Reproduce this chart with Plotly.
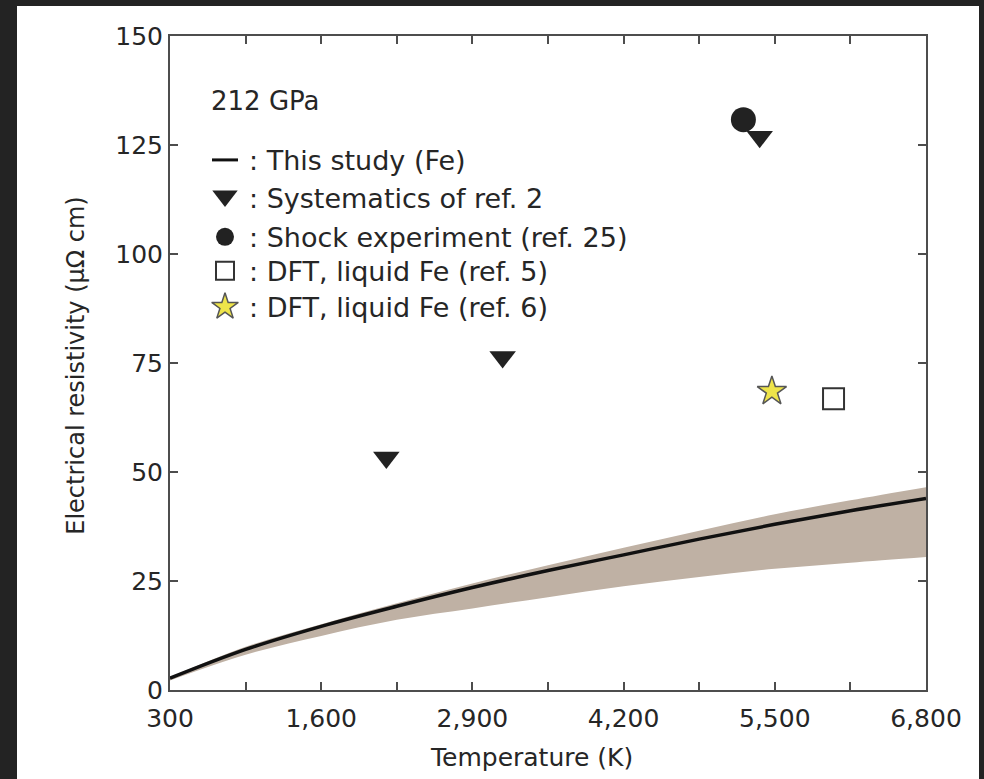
import plotly.graph_objects as go

# ---- data ----
temp_K = [300, 950, 1600, 2250, 2900, 3550, 4200, 4850, 5500, 6150, 6800]
rho_this_study = [2.7, 9.3, 14.6, 19.2, 23.5, 27.4, 31.0, 34.6, 38.0, 41.1, 43.9]
rho_upper = [2.9, 9.9, 15.1, 19.9, 24.4, 28.6, 32.6, 36.5, 40.3, 43.5, 46.5]
rho_lower = [2.2, 8.1, 12.4, 16.1, 18.7, 21.3, 23.8, 25.9, 27.8, 29.2, 30.5]

sys_T = [2160, 3160, 5370]
sys_rho = [53.3, 76.4, 126.9]
shock_T = [5230]
shock_rho = [130.8]
dft5_T = [6005]
dft5_rho = [66.8]
dft6_T = [5475]
dft6_rho = [68.5]

x_tickvals = [300, 950, 1600, 2250, 2900, 3550, 4200, 4850, 5500, 6150, 6800]
x_ticktext = ["300", "", "1,600", "", "2,900", "", "4,200", "", "5,500", "", "6,800"]
y_tickvals = [0, 25, 50, 75, 100, 125, 150]
y_ticktext = ["0", "25", "50", "75", "100", "125", "150"]

legend_labels = [": This study (Fe)", ": Systematics of ref. 2", ": Shock experiment (ref. 25)",
                 ": DFT, liquid Fe (ref. 5)", ": DFT, liquid Fe (ref. 6)"]

# ---- layout geometry (pixels) ----
W, H = 984, 779
L, R, T, B = 170, 926, 36, 690.5
pw, ph = R - L, B - T


def px(x):
    return (x - L) / pw


def py(y):
    return (B - y) / ph


FONT = "DejaVu Sans"
TXT = "#262626"
AX = "#4d4d4d"
BAND = "#bfb1a4"
DARK = "#222222"

sty_sys = dict(symbol="triangle-down", color=DARK)
sty_shock = dict(symbol="circle", color=DARK)
sty_dft5 = dict(symbol="square", color="white", line=dict(color="#333333", width=2))
sty_dft6 = dict(symbol="star", color="#eee44a", line=dict(color="#555555", width=1.5))

fig = go.Figure()

# uncertainty band
fig.add_trace(go.Scatter(x=temp_K, y=rho_lower, mode="lines", line=dict(width=0, color=BAND, shape="spline"),
                         showlegend=False, hoverinfo="skip"))
fig.add_trace(go.Scatter(x=temp_K, y=rho_upper, mode="lines", line=dict(width=0, color=BAND, shape="spline"),
                         fill="tonexty", fillcolor=BAND, showlegend=False, hoverinfo="skip"))

fig.add_trace(go.Scatter(x=temp_K, y=rho_this_study, mode="lines",
                         line=dict(color="#111111", width=3.5, shape="spline"),
                         name="This study (Fe)", showlegend=False))
fig.add_trace(go.Scatter(x=sys_T, y=sys_rho, mode="markers", marker=dict(size=23, **sty_sys),
                         name="Systematics of ref. 2", showlegend=False))
fig.add_trace(go.Scatter(x=shock_T, y=shock_rho, mode="markers", marker=dict(size=25, **sty_shock),
                         name="Shock experiment (ref. 25)", showlegend=False))
fig.add_trace(go.Scatter(x=dft5_T, y=dft5_rho, mode="markers", marker=dict(size=21, **sty_dft5),
                         name="DFT, liquid Fe (ref. 5)", showlegend=False))
fig.add_trace(go.Scatter(x=dft6_T, y=dft6_rho, mode="markers", marker=dict(size=22, **sty_dft6),
                         name="DFT, liquid Fe (ref. 6)", showlegend=False))

# ---- hand-drawn key (on a hidden overlay axis spanning the plot area 0..1) ----
key_rows_y = [160, 198, 237, 271, 307]     # pixel centres of key rows
key_sym_x = 225
fig.add_trace(go.Scatter(x=[px(212), px(238)], y=[py(key_rows_y[0])] * 2, mode="lines",
                         line=dict(color="#111111", width=3), xaxis="x2", yaxis="y2",
                         showlegend=False, hoverinfo="skip"))
for row, (sty, size, dy) in enumerate([(sty_sys, 22, -2), (sty_shock, 18, 0),
                                      (sty_dft5, 18, 0), (sty_dft6, 20, 0)], start=1):
    fig.add_trace(go.Scatter(x=[px(key_sym_x)], y=[py(key_rows_y[row] + dy)], mode="markers",
                             marker=dict(size=size, **sty), xaxis="x2", yaxis="y2",
                             showlegend=False, hoverinfo="skip"))

annotations = [
    dict(text="212 GPa", x=px(209), y=py(101.5), xref="paper", yref="paper",
         xanchor="left", yanchor="middle", showarrow=False,
         font=dict(family=FONT, size=26, color=TXT)),
    dict(text="Temperature (K)", x=px(531), y=py(758), xref="paper", yref="paper",
         xanchor="center", yanchor="middle", showarrow=False,
         font=dict(family=FONT, size=25, color=TXT)),
    dict(text="Electrical resistivity (μΩ cm)", x=px(76), y=py(366), xref="paper", yref="paper",
         xanchor="center", yanchor="middle", showarrow=False, textangle=-90,
         font=dict(family=FONT, size=24, color=TXT)),
]
for row, lab in enumerate(legend_labels):
    annotations.append(dict(text=lab, x=px(247), y=py(key_rows_y[row] + 1), xref="paper", yref="paper",
                            xanchor="left", yanchor="middle", showarrow=False,
                            font=dict(family=FONT, size=27, color=TXT)))

axis_common = dict(showline=True, linecolor=AX, linewidth=2, mirror="ticks", ticks="inside",
                   ticklen=8, tickwidth=2, tickcolor=AX, showgrid=False, zeroline=False,
                   tickfont=dict(family=FONT, size=25, color=TXT))

fig.update_xaxes(range=[300, 6800], tickmode="array", tickvals=x_tickvals, ticktext=x_ticktext,
                 ticklabelstandoff=5, **axis_common)
fig.update_yaxes(range=[0, 150], tickmode="array", tickvals=y_tickvals, ticktext=y_ticktext,
                 **axis_common)

fig.update_layout(
    width=W, height=H,
    margin=dict(l=L, r=W - R, t=T, b=H - B, pad=0),
    paper_bgcolor="#232323",
    plot_bgcolor="white",
    font=dict(family=FONT, color=TXT),
    showlegend=False,
    xaxis2=dict(overlaying="x", range=[0, 1], visible=False, fixedrange=True),
    yaxis2=dict(overlaying="y", range=[0, 1], visible=False, fixedrange=True),
    shapes=[dict(type="rect", xref="paper", yref="paper", layer="below",
                 x0=px(17), x1=px(979), y0=py(800), y1=py(6),
                 fillcolor="white", line=dict(width=0))],
    annotations=annotations,
)

fig.write_html("out.html")
